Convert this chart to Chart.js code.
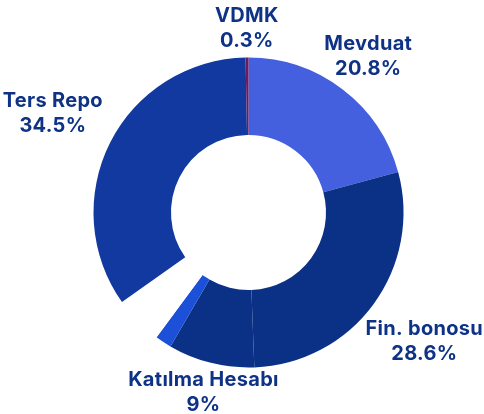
<!DOCTYPE html>
<html lang="tr">
<head>
    <meta charset="UTF-8">
    <title>Dağılım</title>
    <script src="https://cdn.jsdelivr.net/npm/chart.js"></script>
    <style>
        * { margin: 0; padding: 0; box-sizing: border-box; }
        body { background: #fff; width: 484px; height: 414px; overflow: hidden; }
        #wrap { position: relative; width: 484px; height: 414px; }
    </style>
</head>
<body>
    <div id="wrap"><canvas id="chart"></canvas></div>

    <script>
        // Veriler
        const categories = ['Mevduat', 'Fin. bonosu', 'Katılma Hesabı', 'Diğer', 'Boşluk', 'Ters Repo', 'VDMK'];
        const values = [20.8, 28.6, 9, 1.7, 5.1, 34.5, 0.3];
        const showLabel = [true, true, true, false, false, true, true];
        const colors = ['#4560de', '#0a3185', '#0a3185', '#1c50d8', '#ffffff', '#1239a0', '#6d1b5c'];

        // dilim dışına etiket yazan küçük eklenti
        const outLabels = {
            id: 'outLabels',
            afterDatasetsDraw(chart) {
                const ctx = chart.ctx;
                const meta = chart.getDatasetMeta(0);
                ctx.save();
                ctx.font = 'bold 20px Inter, sans-serif';
                ctx.letterSpacing = '0.3px';
                ctx.fillStyle = '#0e3286';
                ctx.textAlign = 'center';
                ctx.textBaseline = 'middle';
                const lineH = 25, padX = 26, halfH = 50, gap = -21;
                meta.data.forEach((arc, i) => {
                    if (!showLabel[i]) return;
                    const p = arc.getProps(['x', 'y', 'startAngle', 'endAngle', 'outerRadius'], true);
                    const mid = (p.startAngle + p.endAngle) / 2;
                    const dx = Math.cos(mid), dy = Math.sin(mid);
                    const lines = [categories[i], values[i] + '%'];
                    const w = Math.max(...lines.map(t => ctx.measureText(t).width));
                    const halfW = w / 2 + padX;
                    const ext = Math.min(
                        Math.abs(dx) > 1e-6 ? halfW / Math.abs(dx) : Infinity,
                        Math.abs(dy) > 1e-6 ? halfH / Math.abs(dy) : Infinity
                    );
                    const r = p.outerRadius + gap + ext;
                    const cx = p.x + dx * r;
                    const cy = p.y + dy * r;
                    ctx.fillText(lines[0], cx, cy - lineH / 2);
                    ctx.fillText(lines[1], cx, cy + lineH / 2);
                });
                ctx.restore();
            }
        };

        new Chart(document.getElementById('chart'), {
            type: 'doughnut',
            data: {
                labels: categories,
                datasets: [{
                    data: values,
                    backgroundColor: colors,
                    borderWidth: 0,
                    hoverOffset: 0
                }]
            },
            options: {
                responsive: true,
                maintainAspectRatio: false,
                animation: false,
                cutout: '50%',
                layout: {
                    padding: { top: 57.5, bottom: 46.5, left: 93.5, right: 80.5 }
                },
                plugins: {
                    legend: { display: false },
                    tooltip: { enabled: false }
                }
            },
            plugins: [outLabels]
        });
    </script>
</body>
</html>
